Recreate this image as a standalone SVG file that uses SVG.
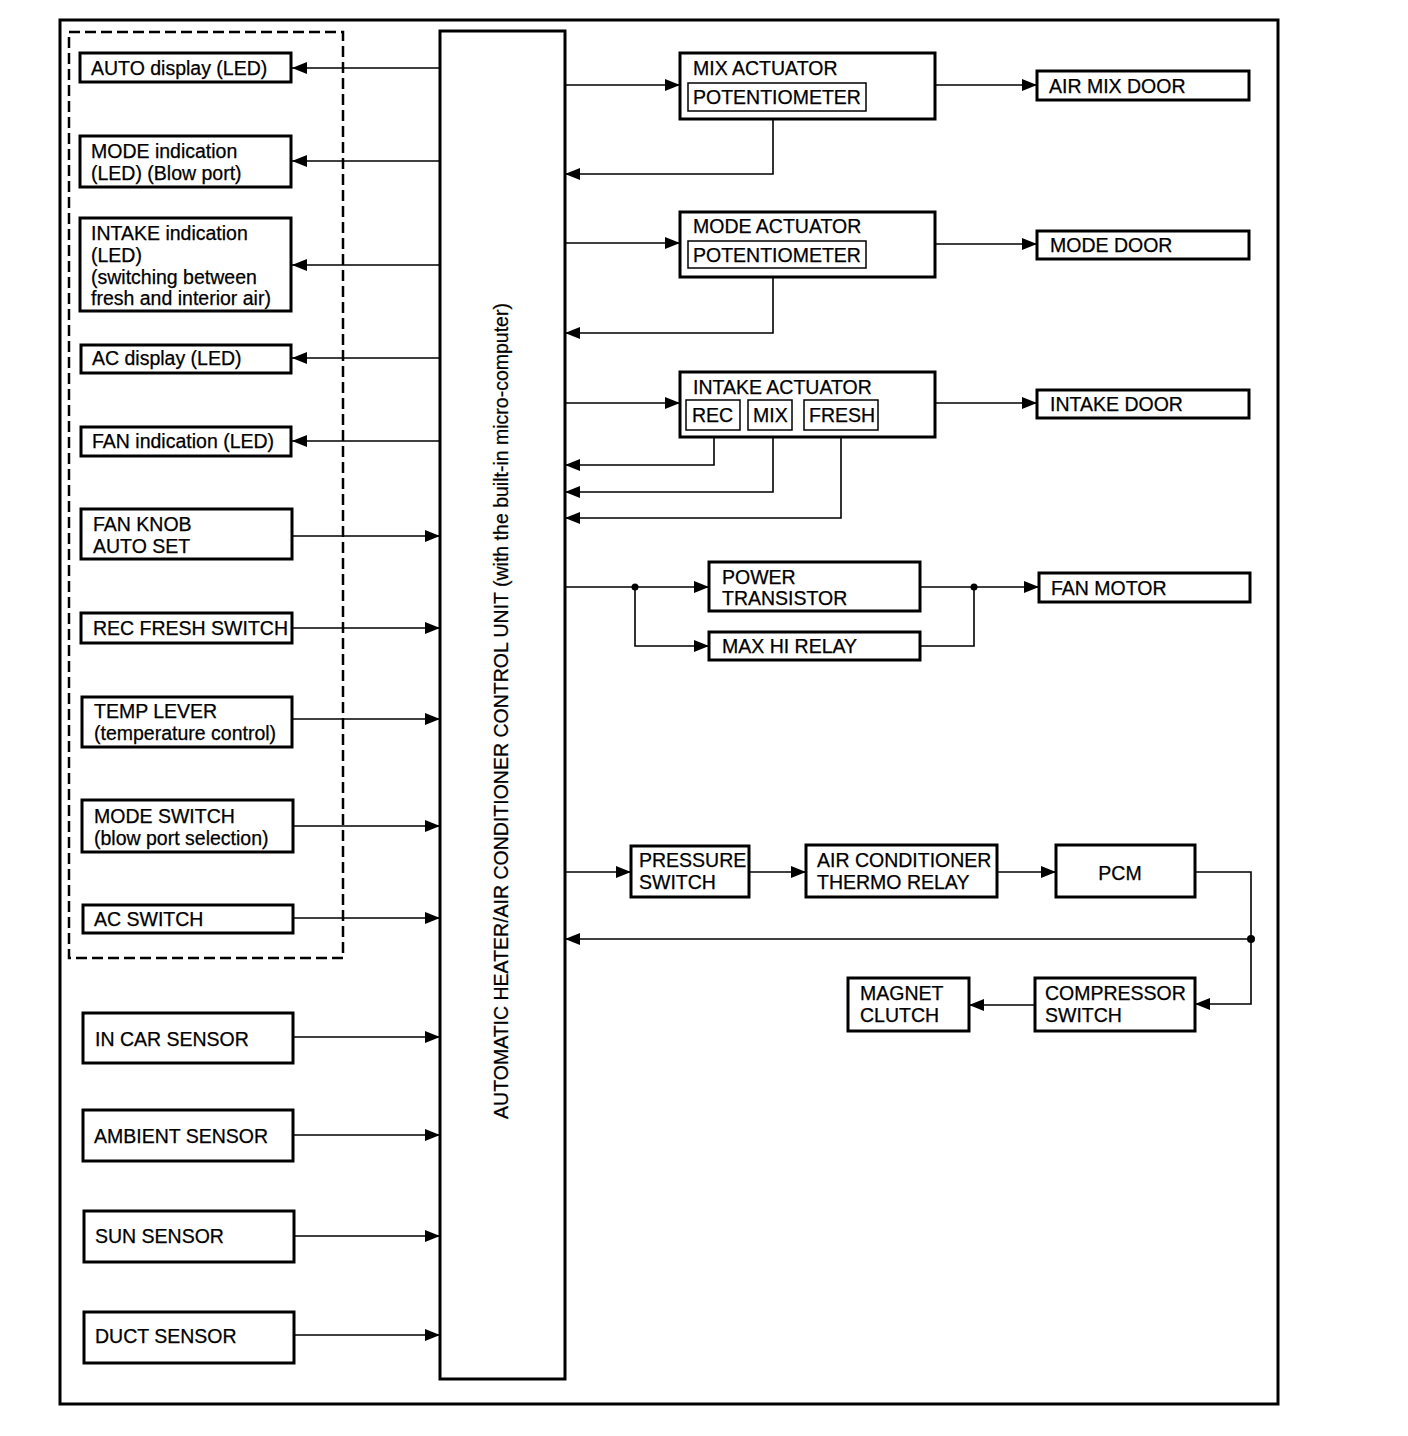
<svg xmlns="http://www.w3.org/2000/svg" width="1408" height="1436" viewBox="0 0 1408 1436">
<style>
.b{fill:#fff;stroke:#000;stroke-width:3}
.i{fill:#fff;stroke:#000;stroke-width:1.5}
.t{font-family:"Liberation Sans",Arial,sans-serif;font-size:19.5px;fill:#000;stroke:#000;stroke-width:0.25}
.c{fill:none;stroke:#000;stroke-width:1.6}
</style>
<defs>
<marker id="a" markerUnits="userSpaceOnUse" viewBox="0 0 15 12" refX="15" refY="6" markerWidth="15" markerHeight="12" orient="auto">
<path d="M0,0 L15,6 L0,12 z" fill="#000"/>
</marker>
</defs>
<rect width="1408" height="1436" fill="#fff"/>
<rect x="60" y="20" width="1218" height="1384" fill="none" stroke="#000" stroke-width="3"/>
<rect x="69" y="32" width="274" height="926" fill="none" stroke="#000" stroke-width="2.5" stroke-dasharray="11 5"/>

<g id="connectors">
<!-- outputs to LEDs -->
<path class="c" d="M440,68 H292" marker-end="url(#a)"/>
<path class="c" d="M440,161 H292" marker-end="url(#a)"/>
<path class="c" d="M440,265 H292" marker-end="url(#a)"/>
<path class="c" d="M440,358 H292" marker-end="url(#a)"/>
<path class="c" d="M440,441 H292" marker-end="url(#a)"/>
<!-- inputs -->
<path class="c" d="M292,536 H440" marker-end="url(#a)"/>
<path class="c" d="M292,628 H440" marker-end="url(#a)"/>
<path class="c" d="M292,719 H440" marker-end="url(#a)"/>
<path class="c" d="M293,826 H440" marker-end="url(#a)"/>
<path class="c" d="M293,918 H440" marker-end="url(#a)"/>
<path class="c" d="M293,1037 H440" marker-end="url(#a)"/>
<path class="c" d="M293,1135 H440" marker-end="url(#a)"/>
<path class="c" d="M294,1236 H440" marker-end="url(#a)"/>
<path class="c" d="M294,1335 H440" marker-end="url(#a)"/>
<!-- mix actuator -->
<path class="c" d="M565,85 H680" marker-end="url(#a)"/>
<path class="c" d="M935,85 H1037" marker-end="url(#a)"/>
<path class="c" d="M773,111 V174 H565" marker-end="url(#a)"/>
<!-- mode actuator -->
<path class="c" d="M565,243 H680" marker-end="url(#a)"/>
<path class="c" d="M935,244 H1037" marker-end="url(#a)"/>
<path class="c" d="M773,268 V333 H565" marker-end="url(#a)"/>
<!-- intake actuator -->
<path class="c" d="M565,403 H680" marker-end="url(#a)"/>
<path class="c" d="M935,403 H1037" marker-end="url(#a)"/>
<path class="c" d="M714,430 V465 H565" marker-end="url(#a)"/>
<path class="c" d="M773,430 V492 H565" marker-end="url(#a)"/>
<path class="c" d="M841,430 V518 H565" marker-end="url(#a)"/>
<!-- fan -->
<path class="c" d="M565,587 H709" marker-end="url(#a)"/>
<path class="c" d="M635,587 V646 H709" marker-end="url(#a)"/>
<path class="c" d="M920,587 H1039" marker-end="url(#a)"/>
<path class="c" d="M920,646 H974 V587"/>
<circle cx="635" cy="587" r="3.5"/>
<circle cx="974" cy="587" r="3.5"/>
<!-- AC chain -->
<path class="c" d="M565,872 H631" marker-end="url(#a)"/>
<path class="c" d="M749,872 H806" marker-end="url(#a)"/>
<path class="c" d="M997,872 H1056" marker-end="url(#a)"/>
<path class="c" d="M1195,872 H1251 V1004 H1195" marker-end="url(#a)"/>
<path class="c" d="M1251,939 H565" marker-end="url(#a)"/>
<circle cx="1251" cy="939" r="4"/>
<path class="c" d="M1035,1005 H969" marker-end="url(#a)"/>
</g>

<g id="control-unit">
<rect class="b" x="440" y="31" width="125" height="1348"/>
<text class="t" transform="translate(508,711) rotate(-90)" text-anchor="middle">AUTOMATIC HEATER/AIR CONDITIONER CONTROL UNIT (with the built-in micro-computer)</text>
</g>

<g id="auto-display"><rect class="b" x="80" y="53" width="211" height="29"/><text class="t" x="91" y="75">AUTO display (LED)</text></g>
<g id="mode-indication"><rect class="b" x="80" y="136" width="211" height="51"/><text class="t" x="91" y="158">MODE indication</text><text class="t" x="91" y="180">(LED) (Blow port)</text></g>
<g id="intake-indication"><rect class="b" x="80" y="218" width="211" height="93"/><text class="t" x="91" y="240">INTAKE indication</text><text class="t" x="91" y="262">(LED)</text><text class="t" x="91" y="284">(switching between</text><text class="t" x="91" y="305">fresh and interior air)</text></g>
<g id="ac-display"><rect class="b" x="81" y="345" width="210" height="28"/><text class="t" x="92" y="365">AC display (LED)</text></g>
<g id="fan-indication"><rect class="b" x="81" y="427" width="210" height="29"/><text class="t" x="92" y="448">FAN indication (LED)</text></g>
<g id="fan-knob"><rect class="b" x="81" y="509" width="211" height="50"/><text class="t" x="93" y="531">FAN KNOB</text><text class="t" x="93" y="553">AUTO SET</text></g>
<g id="rec-fresh-switch"><rect class="b" x="81" y="613" width="211" height="30"/><text class="t" x="93" y="635">REC FRESH SWITCH</text></g>
<g id="temp-lever"><rect class="b" x="82" y="697" width="210" height="50"/><text class="t" x="94" y="718">TEMP LEVER</text><text class="t" x="94" y="740">(temperature control)</text></g>
<g id="mode-switch"><rect class="b" x="82" y="800" width="211" height="52"/><text class="t" x="94" y="823">MODE SWITCH</text><text class="t" x="94" y="845">(blow port selection)</text></g>
<g id="ac-switch"><rect class="b" x="83" y="905" width="210" height="28"/><text class="t" x="94" y="926">AC SWITCH</text></g>
<g id="in-car-sensor"><rect class="b" x="83" y="1013" width="210" height="50"/><text class="t" x="95" y="1046">IN CAR SENSOR</text></g>
<g id="ambient-sensor"><rect class="b" x="83" y="1110" width="210" height="51"/><text class="t" x="94" y="1143">AMBIENT SENSOR</text></g>
<g id="sun-sensor"><rect class="b" x="84" y="1211" width="210" height="51"/><text class="t" x="95" y="1243">SUN SENSOR</text></g>
<g id="duct-sensor"><rect class="b" x="84" y="1312" width="210" height="51"/><text class="t" x="95" y="1343">DUCT SENSOR</text></g>

<g id="mix-actuator"><rect class="b" x="680" y="53" width="255" height="66"/><text class="t" x="693" y="75">MIX ACTUATOR</text><rect class="i" x="688" y="83" width="178" height="28"/><text class="t" x="693" y="104">POTENTIOMETER</text></g>
<g id="air-mix-door"><rect class="b" x="1037" y="71" width="212" height="29"/><text class="t" x="1049" y="93">AIR MIX DOOR</text></g>
<g id="mode-actuator"><rect class="b" x="680" y="212" width="255" height="65"/><text class="t" x="693" y="233">MODE ACTUATOR</text><rect class="i" x="688" y="241" width="178" height="27"/><text class="t" x="693" y="262">POTENTIOMETER</text></g>
<g id="mode-door"><rect class="b" x="1037" y="231" width="212" height="28"/><text class="t" x="1050" y="252">MODE DOOR</text></g>
<g id="intake-actuator"><rect class="b" x="680" y="372" width="255" height="65"/><text class="t" x="693" y="394">INTAKE ACTUATOR</text>
<rect class="i" x="686" y="400" width="54" height="30"/><text class="t" x="692" y="422">REC</text>
<rect class="i" x="748" y="400" width="44" height="30"/><text class="t" x="753" y="422">MIX</text>
<rect class="i" x="804" y="400" width="74" height="30"/><text class="t" x="809" y="422">FRESH</text></g>
<g id="intake-door"><rect class="b" x="1037" y="390" width="212" height="28"/><text class="t" x="1050" y="411">INTAKE DOOR</text></g>
<g id="power-transistor"><rect class="b" x="709" y="562" width="211" height="49"/><text class="t" x="722" y="584">POWER</text><text class="t" x="722" y="605">TRANSISTOR</text></g>
<g id="max-hi-relay"><rect class="b" x="709" y="632" width="211" height="28"/><text class="t" x="722" y="653">MAX HI RELAY</text></g>
<g id="fan-motor"><rect class="b" x="1039" y="573" width="211" height="29"/><text class="t" x="1051" y="595">FAN MOTOR</text></g>
<g id="pressure-switch"><rect class="b" x="631" y="846" width="118" height="51"/><text class="t" x="639" y="867">PRESSURE</text><text class="t" x="639" y="889">SWITCH</text></g>
<g id="thermo-relay"><rect class="b" x="806" y="845" width="191" height="52"/><text class="t" x="817" y="867">AIR CONDITIONER</text><text class="t" x="817" y="889">THERMO RELAY</text></g>
<g id="pcm"><rect class="b" x="1056" y="845" width="139" height="52"/><text class="t" x="1120" y="880" text-anchor="middle">PCM</text></g>
<g id="compressor-switch"><rect class="b" x="1035" y="978" width="160" height="53"/><text class="t" x="1045" y="1000">COMPRESSOR</text><text class="t" x="1045" y="1022">SWITCH</text></g>
<g id="magnet-clutch"><rect class="b" x="848" y="978" width="121" height="53"/><text class="t" x="860" y="1000">MAGNET</text><text class="t" x="860" y="1022">CLUTCH</text></g>
</svg>
